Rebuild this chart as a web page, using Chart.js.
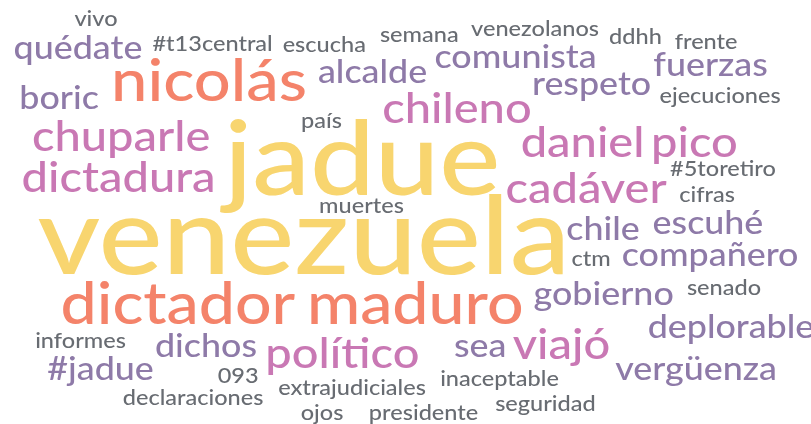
<!DOCTYPE html>
<html>
<head>
<meta charset="utf-8">
<script src="https://cdn.jsdelivr.net/npm/chart.js@4.4.1/dist/chart.umd.min.js"></script>
<style>
  html, body { margin: 0; padding: 0; background: #fff; }
  #wrap { width: 811px; height: 424px; }
</style>
</head>
<body>
<div id="wrap"><canvas id="cloud"></canvas></div>
<script>
// word cloud data
const words = [
  "venezuela", "jadue",
  "nicolás", "dictador", "maduro",
  "chileno", "chuparle", "dictadura", "daniel", "pico", "cadáver", "político", "viajó",
  "quédate", "boric", "alcalde", "comunista", "respeto", "fuerzas", "chile", "escuhé",
  "compañero", "gobierno", "deplorable", "sea", "dichos", "#jadue", "vergüenza",
  "vivo", "#t13central", "escucha", "semana", "venezolanos", "ddhh", "frente",
  "ejecuciones", "país", "#5toretiro", "cifras", "muertes", "ctm", "senado",
  "informes", "093", "inaceptable", "extrajudiciales", "declaraciones", "ojos",
  "presidente", "seguridad"
];
const counts = [
  216, 206,
  116, 115, 115,
  84, 84, 84, 84, 84, 84, 84, 84,
  64, 64, 64, 64, 64, 64, 64, 64,
  64, 64, 64, 64, 64, 64, 64,
  42, 42, 42, 42, 42, 42, 42,
  42, 42, 42, 42, 42, 42, 42,
  42, 42, 42, 42, 42, 42,
  42, 42
];
// layout position of each word in the cloud (centre x, baseline y)
const posX = [
  301, 358,
  210, 179, 416,
  457, 121, 118, 582, 695, 587, 343, 561,
  78, 60, 372, 515, 592, 710, 603, 708,
  710, 603, 731, 479, 206, 100, 695,
  96, 212, 324, 419, 535, 635, 706,
  720, 322, 723, 707, 362, 591, 724,
  81, 238, 500, 352, 193, 322,
  424, 545
];
const posY = [
  274, 195,
  101, 324, 324,
  123, 151, 192, 157, 157, 203, 368, 359,
  59, 109, 83, 68, 95, 76, 240, 234,
  266, 305, 338, 357, 357, 380, 380,
  26, 51, 52, 42, 36, 44, 49,
  103, 128, 176, 202, 213, 266, 295,
  348, 383, 386, 395, 405, 420,
  420, 411
];
// colour group per word
const groups = [
  0, 0,
  1, 1, 1,
  2, 2, 2, 2, 2, 2, 2, 2,
  3, 3, 3, 3, 3, 3, 3, 3,
  3, 3, 3, 3, 3, 3, 3,
  4, 4, 4, 4, 4, 4, 4,
  4, 4, 4, 4, 4, 4, 4,
  4, 4, 4, 4, 4, 4,
  4, 4
];
const groupColors = ["#f8d56f", "#f4836a", "#c978b4", "#8e7aa8", "#686c72"];

const FONT = "Lato";
const SIZE_PER_COUNT = 0.5;
const STRETCH = 1.12;

const wordPlugin = {
  id: "wordLabels",
  afterDatasetsDraw(chart) {
    const ctx = chart.ctx;
    const meta = chart.getDatasetMeta(0);
    ctx.save();
    ctx.textAlign = "left";
    ctx.textBaseline = "alphabetic";
    meta.data.forEach((pt, i) => {
      const size = counts[i] * SIZE_PER_COUNT;
      ctx.font = `500 ${size}px ${FONT}`;
      ctx.fillStyle = groupColors[groups[i]];
      const m = ctx.measureText(words[i]);
      // centre the ink, not the advance box
      const off = (m.actualBoundingBoxRight - m.actualBoundingBoxLeft) / 2;
      ctx.save();
      ctx.translate(pt.x, pt.y);
      ctx.scale(STRETCH, 1);
      ctx.fillText(words[i], -off, 0);
      ctx.restore();
    });
    ctx.restore();
  }
};

const ctx = document.getElementById("cloud").getContext("2d");
new Chart(ctx, {
  type: "scatter",
  data: {
    datasets: [{
      data: words.map((w, i) => ({ x: posX[i], y: posY[i] })),
      pointRadius: 0,
      pointHoverRadius: 0
    }]
  },
  options: {
    responsive: true,
    maintainAspectRatio: false,
    animation: false,
    layout: { padding: 0 },
    plugins: { legend: { display: false }, tooltip: { enabled: false } },
    scales: {
      x: { type: "linear", min: 0, max: 811, display: false },
      y: { type: "linear", min: 0, max: 424, reverse: true, display: false }
    }
  },
  plugins: [wordPlugin]
});
</script>
</body>
</html>
